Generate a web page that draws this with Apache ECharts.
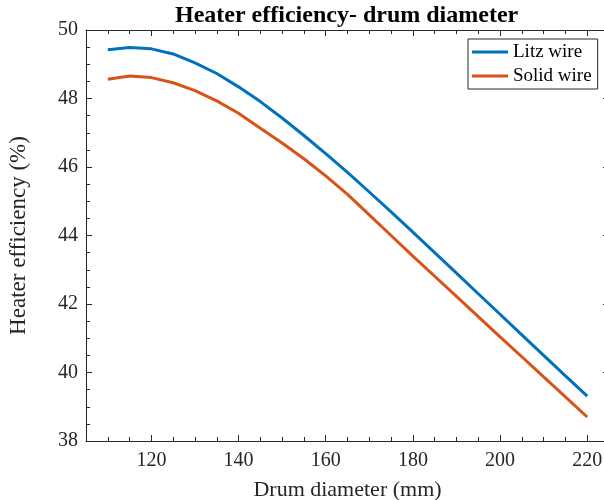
<!DOCTYPE html>
<html>
<head>
<meta charset="utf-8">
<script src="https://cdn.jsdelivr.net/npm/echarts@6/dist/echarts.min.js"></script>
<style>html,body{margin:0;padding:0;background:#fff;}#c{width:604px;height:500px;}</style>
</head>
<body>
<div id="c"></div>
<script>
const diameters = [110,115,120,125,130,135,140,145,150,155,160,165,170,175,180,185,190,195,200,205,210,215,220];
const litzWire = [49.42,49.49,49.45,49.30,49.04,48.73,48.34,47.91,47.43,46.92,46.39,45.84,45.27,44.69,44.10,43.50,42.90,42.30,41.70,41.10,40.50,39.90,39.31];
const solidWire = [48.56,48.66,48.61,48.46,48.23,47.93,47.57,47.13,46.70,46.24,45.74,45.20,44.60,44.00,43.40,42.81,42.22,41.63,41.04,40.46,39.87,39.29,38.70];
const xMajorTicks = [120,140,160,180,200,220];
const seriesNames = ['Litz wire','Solid wire'];

const FONT = '"Liberation Serif", "Times New Roman", serif';
const AX = '#262626';
const chart = echarts.init(document.getElementById('c'), null, {renderer:'canvas'});

function xAxisCfg(pos, major, showLabel, showLine, name) {
  const a = {
    type:'value', position:pos, min:105, max:225, gridIndex:0,
    axisLine:{show:showLine, lineStyle:{color:AX, width:1}},
    splitLine:{show:false},
    axisTick:{show:true, inside:true, length: major?6:4, lineStyle:{color:AX, width:1}},
    axisLabel:{show:false}
  };
  if (major) {
    a.axisTick.customValues = xMajorTicks;
    a.axisLabel = {show:showLabel, customValues:xMajorTicks, color:AX, fontFamily:FONT, fontSize:20, margin:10};
  } else {
    a.interval = 5;
  }
  if (name) {
    a.name = name; a.nameLocation='middle'; a.nameGap=38;
    a.nameTextStyle = {color:AX, fontFamily:FONT, fontSize:22};
  }
  return a;
}
function yAxisCfg(pos, showLabel, name) {
  const a = {
    type:'value', position:pos, min:38, max:50, interval:2, gridIndex:0,
    axisLine:{show:true, lineStyle:{color:AX, width:1}},
    splitLine:{show:false},
    axisTick:{show:true, inside:true, length:6, lineStyle:{color:AX}},
    minorTick:{show:true, splitNumber:4, length:4, lineStyle:{color:AX}},
    axisLabel:{show:showLabel, color:AX, fontFamily:FONT, fontSize:20, margin:8}
  };
  if (name) {
    a.name = name; a.nameLocation='middle'; a.nameGap=56;
    a.nameTextStyle = {color:AX, fontFamily:FONT, fontSize:23};
  }
  return a;
}

chart.setOption({
  animation:false,
  backgroundColor:'#fff',
  title:{
    text:'Heater efficiency- drum diameter',
    left:175, top:4, padding:0,
    textStyle:{fontFamily:FONT, fontWeight:'bold', fontSize:24, color:'#000'}
  },
  grid:{left:86, top:30, right:-5, height:411, containLabel:false, outerBoundsMode:'none'},
  xAxis:[
    xAxisCfg('bottom', true, true, true, 'Drum diameter (mm)'),
    xAxisCfg('bottom', false, false, false),
    xAxisCfg('top', true, false, true),
    xAxisCfg('top', false, false, false)
  ],
  yAxis:[
    yAxisCfg('left', true, 'Heater efficiency (%)'),
    yAxisCfg('right', false)
  ],
  legend:{
    orient:'vertical', left:468, top:39,
    padding:[3,6,3,4], itemGap:4, itemWidth:36, itemHeight:3, itemTextGap:2,
    icon:'rect',
    borderColor:AX, borderWidth:1, backgroundColor:'#fff',
    textStyle:{fontFamily:FONT, fontSize:19, color:'#000', lineHeight:20},
    data:seriesNames
  },
  series:[
    {name:seriesNames[0], type:'line', xAxisIndex:0, yAxisIndex:0, symbol:'none',
     data:diameters.map((d,i)=>[d, litzWire[i]]),
     lineStyle:{color:'#0072BD', width:3}, itemStyle:{color:'#0072BD'}},
    {name:seriesNames[1], type:'line', xAxisIndex:0, yAxisIndex:0, symbol:'none',
     data:diameters.map((d,i)=>[d, solidWire[i]]),
     lineStyle:{color:'#D95319', width:3}, itemStyle:{color:'#D95319'}}
  ]
});
</script>
</body>
</html>
